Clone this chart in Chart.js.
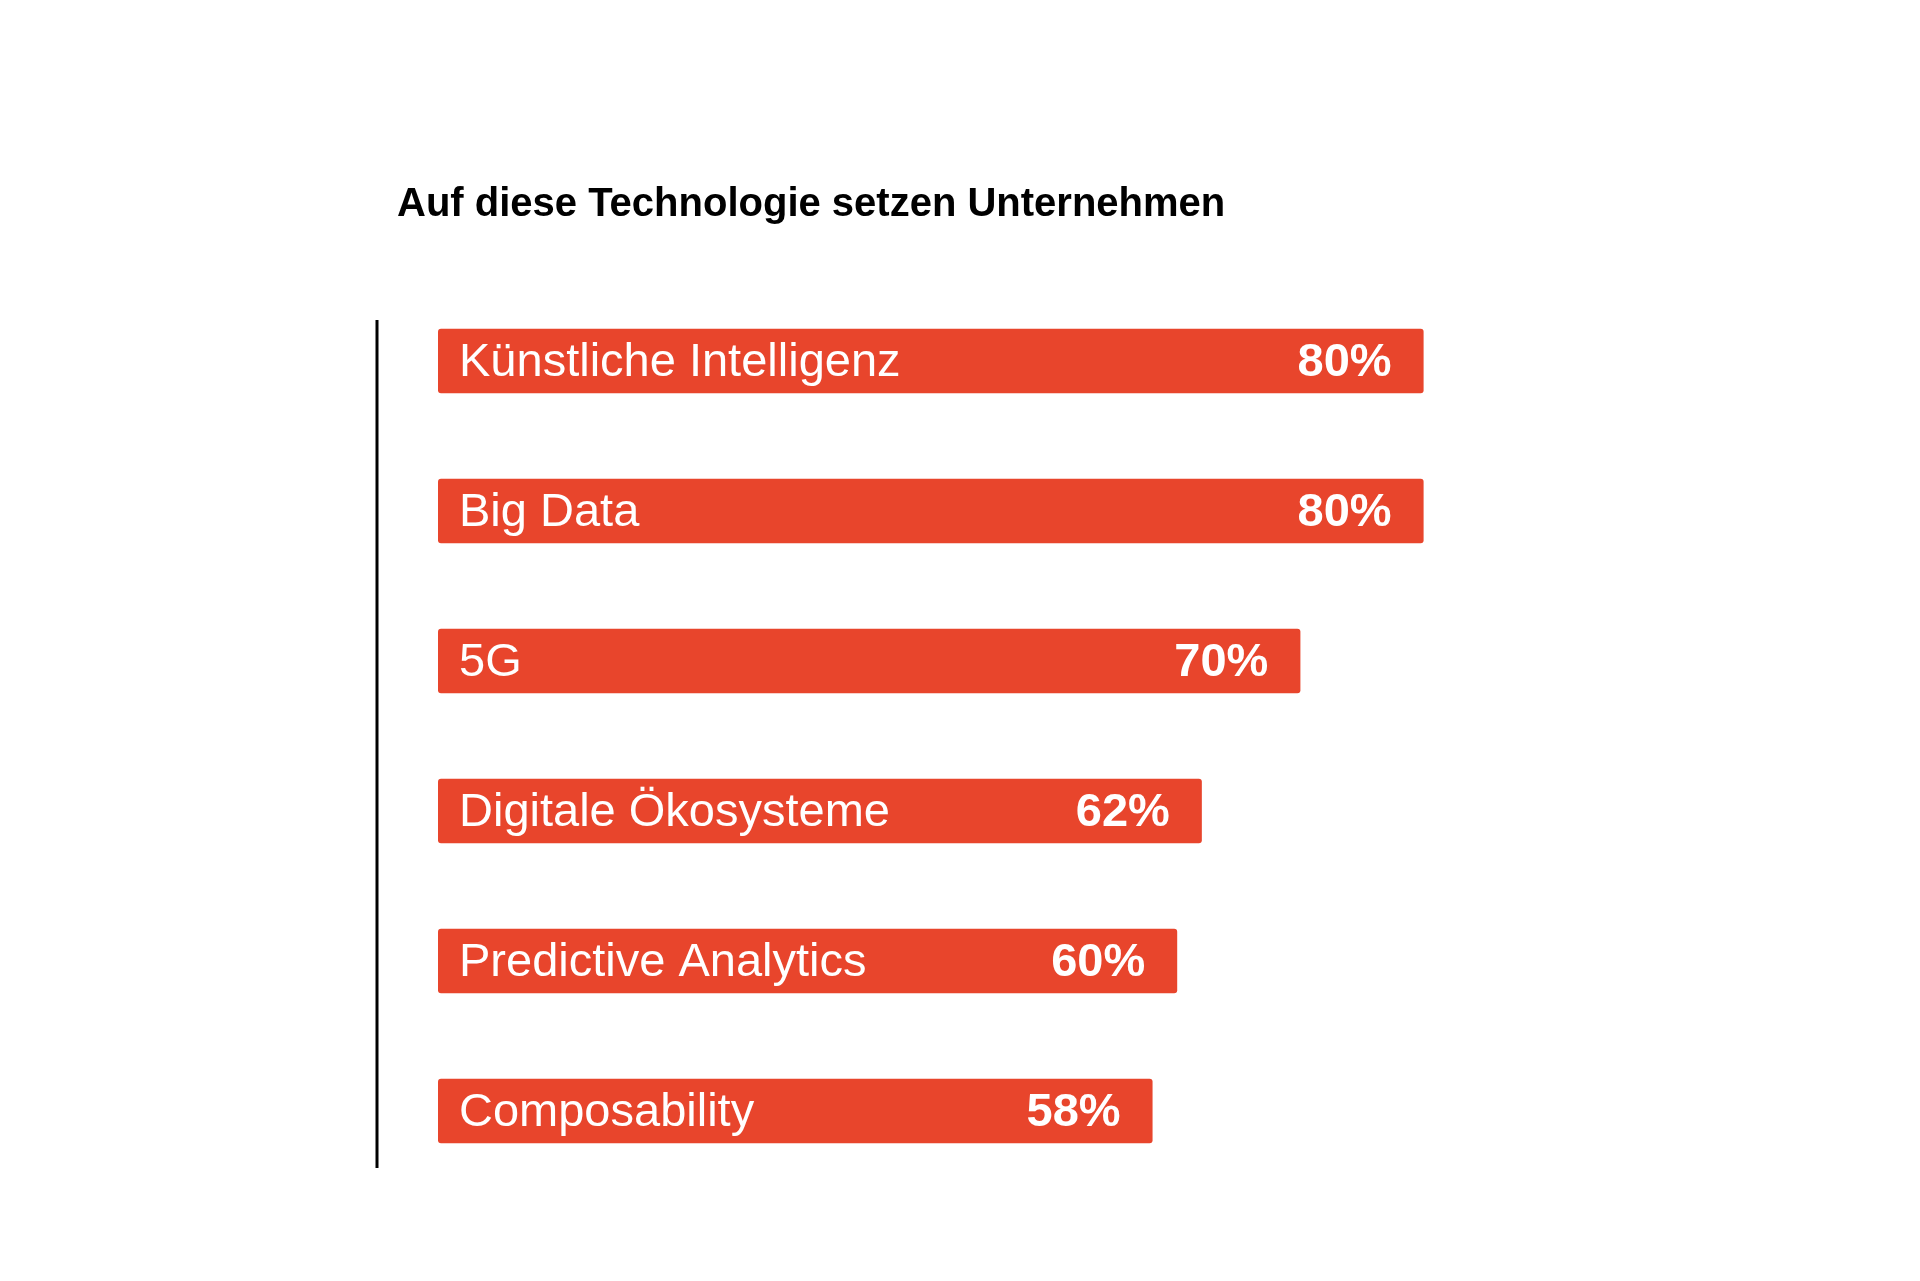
<!DOCTYPE html>
<html>
<head>
<meta charset="utf-8">
<script src="https://cdn.jsdelivr.net/npm/chart.js@4"></script>
<style>
  html, body { margin: 0; padding: 0; background: #fff; }
</style>
</head>
<body>
<canvas id="grafico" width="1920" height="1281"></canvas>
<script>
const titulo = 'Auf diese Technologie setzen Unternehmen';
const categorias = ['Künstliche Intelligenz', 'Big Data', '5G', 'Digitale Ökosysteme', 'Predictive Analytics', 'Composability'];
const valores = [80, 80, 70, 62, 60, 58];

// title, left line and labels inside the bars
const etiquetas = {
  id: 'etiquetas',
  afterDatasetsDraw(chart) {
    const ctx = chart.ctx;
    ctx.save();
    ctx.fillStyle = '#000';
    ctx.font = 'bold 40px "Liberation Sans", Arial, sans-serif';
    ctx.textBaseline = 'middle';
    ctx.textAlign = 'left';
    ctx.fillText(titulo, 397, 205);

    ctx.strokeStyle = '#000';
    ctx.lineWidth = 3;
    ctx.beginPath();
    ctx.moveTo(377, 320);
    ctx.lineTo(377, 1168);
    ctx.stroke();

    const meta = chart.getDatasetMeta(0);
    meta.data.forEach((bar, i) => {
      ctx.fillStyle = '#fff';
      ctx.font = '47px "Liberation Sans", Arial, sans-serif';
      ctx.textAlign = 'left';
      ctx.fillText(categorias[i], bar.base + 21, bar.y + 2);
      ctx.font = 'bold 47px "Liberation Sans", Arial, sans-serif';
      ctx.textAlign = 'right';
      ctx.fillText(valores[i] + '%', bar.x - 32, bar.y + 2);
    });
    ctx.restore();
  }
};

new Chart(document.getElementById('grafico').getContext('2d'), {
  type: 'bar',
  data: {
    labels: categorias,
    datasets: [{
      data: valores,
      backgroundColor: '#e8452c',
      borderRadius: 3,
      borderSkipped: false,
      barPercentage: 0.43,
      categoryPercentage: 1
    }]
  },
  options: {
    indexAxis: 'y',
    responsive: false,
    animation: false,
    layout: { padding: { left: 438, right: 250, top: 286, bottom: 95 } },
    scales: {
      x: { display: false, min: 0, max: 100 },
      y: { display: false }
    },
    plugins: {
      legend: { display: false },
      tooltip: { enabled: false }
    }
  },
  plugins: [etiquetas]
});
</script>
</body>
</html>
